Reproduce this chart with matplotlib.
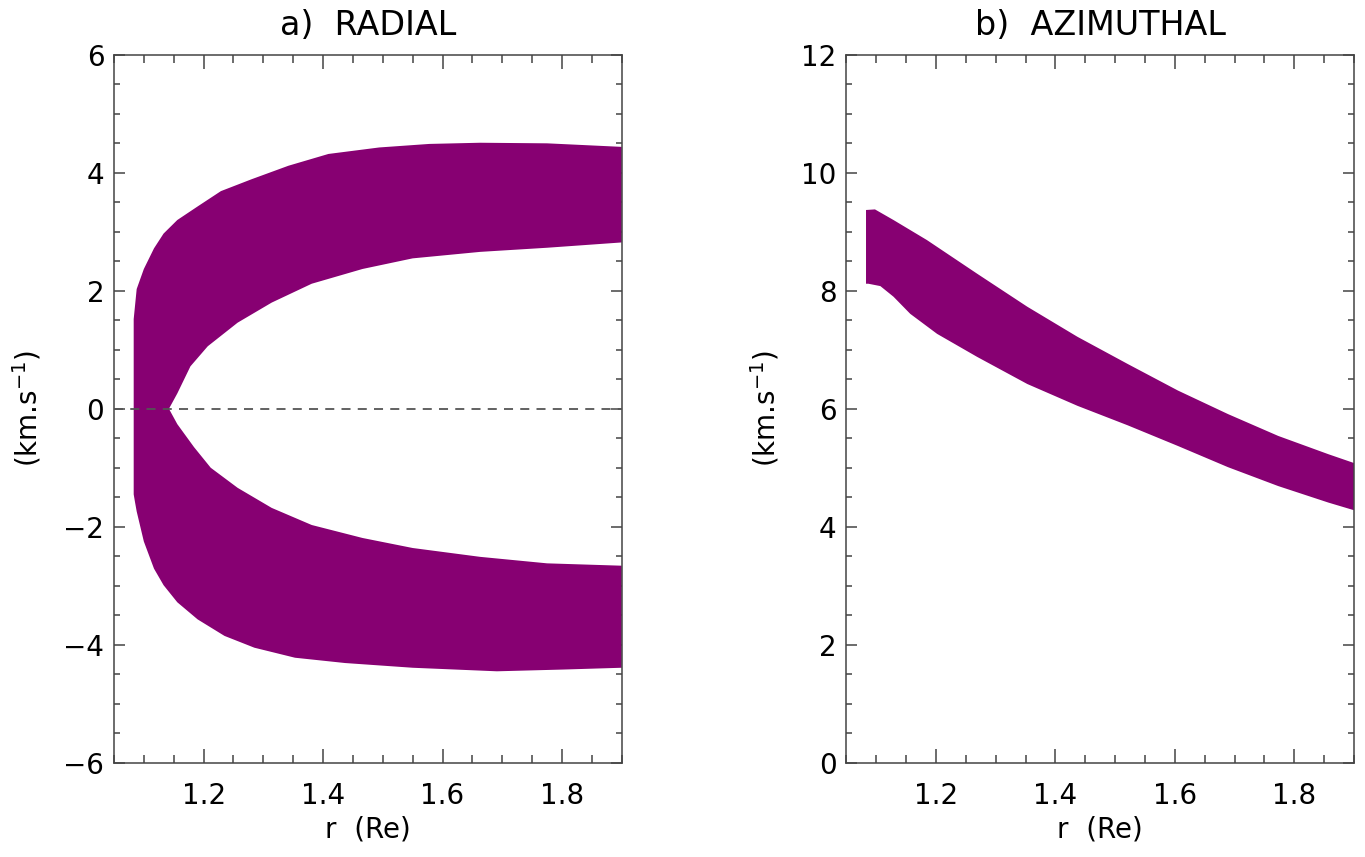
import numpy as np
import matplotlib
matplotlib.use("Agg")
import matplotlib.pyplot as plt
from matplotlib.ticker import MultipleLocator

# radial band outline (r in Re, v in km/s)
r_up_out = [1.083, 1.088, 1.100, 1.117, 1.133, 1.156, 1.190, 1.229, 1.280, 1.342, 1.409, 1.494, 1.578, 1.663, 1.775, 1.90]
v_up_out = [1.52, 2.03, 2.37, 2.72, 2.97, 3.20, 3.43, 3.69, 3.89, 4.12, 4.32, 4.43, 4.49, 4.51, 4.50, 4.44]
r_up_in = [1.142, 1.156, 1.178, 1.207, 1.257, 1.314, 1.381, 1.466, 1.550, 1.663, 1.775, 1.90]
v_up_in = [0.0, 0.26, 0.72, 1.06, 1.46, 1.80, 2.12, 2.37, 2.55, 2.66, 2.73, 2.82]
r_lo_in = [1.142, 1.156, 1.184, 1.212, 1.257, 1.314, 1.381, 1.466, 1.550, 1.663, 1.775, 1.90]
v_lo_in = [0.0, -0.26, -0.65, -1.00, -1.34, -1.68, -1.97, -2.19, -2.36, -2.51, -2.62, -2.66]
r_lo_out = [1.083, 1.085, 1.088, 1.100, 1.117, 1.133, 1.156, 1.190, 1.235, 1.285, 1.353, 1.437, 1.550, 1.691, 1.803, 1.90]
v_lo_out = [-1.45, -1.57, -1.74, -2.25, -2.71, -2.99, -3.28, -3.57, -3.85, -4.05, -4.22, -4.31, -4.39, -4.45, -4.42, -4.39]

# azimuthal band outline
r_az_up = [1.083, 1.098, 1.129, 1.185, 1.269, 1.353, 1.437, 1.521, 1.605, 1.689, 1.773, 1.857, 1.90]
v_az_up = [9.37, 9.38, 9.20, 8.86, 8.29, 7.73, 7.22, 6.76, 6.31, 5.91, 5.54, 5.23, 5.08]
r_az_lo = [1.083, 1.087, 1.107, 1.129, 1.157, 1.202, 1.269, 1.353, 1.437, 1.521, 1.605, 1.689, 1.773, 1.857, 1.90]
v_az_lo = [8.12, 8.12, 8.08, 7.90, 7.61, 7.27, 6.88, 6.42, 6.05, 5.72, 5.37, 5.01, 4.69, 4.41, 4.28]

purple = "#870072"
axcol = "#444444"

fig = plt.figure(figsize=(13.65, 8.57), dpi=100)
ax1 = fig.add_axes([0.0835, 0.110, 0.372, 0.826])
ax2 = fig.add_axes([0.620, 0.110, 0.372, 0.826])

# one closed outline for the C shaped radial band
px = r_up_out + r_up_in[::-1] + r_lo_in + r_lo_out[::-1]
py = v_up_out + v_up_in[::-1] + v_lo_in + v_lo_out[::-1]
ax1.fill(px, py, color=purple, lw=0, zorder=2)
ax1.axhline(0, color="#555555", lw=1.3, ls=(0, (5, 4)), zorder=3)

ax2.fill(r_az_up + r_az_lo[::-1], v_az_up + v_az_lo[::-1], color=purple, lw=0, zorder=2)

for ax, ylim, title in [(ax1, (-6, 6), "a)  RADIAL"), (ax2, (0, 12), "b)  AZIMUTHAL")]:
    ax.set_xlim(1.05, 1.9)
    ax.set_ylim(*ylim)
    ax.xaxis.set_major_locator(MultipleLocator(0.2))
    ax.xaxis.set_minor_locator(MultipleLocator(0.05))
    ax.yaxis.set_major_locator(MultipleLocator(2))
    ax.yaxis.set_minor_locator(MultipleLocator(0.5))
    ax.tick_params(which="both", direction="in", top=True, right=True, color=axcol, width=1.1, labelsize=20)
    ax.tick_params(axis="x", which="major", length=10, pad=14)
    ax.tick_params(axis="x", which="minor", length=5.5)
    ax.tick_params(axis="y", which="major", length=8, pad=7)
    ax.tick_params(axis="y", which="minor", length=4)
    for s in ax.spines.values():
        s.set_color(axcol)
        s.set_linewidth(1.1)
    ax.set_title(title, fontsize=24, pad=14)
    ax.set_xlabel("r  (Re)", fontsize=20, labelpad=4)
    ax.set_ylabel("(km.s$^{-1}$)", fontsize=20, labelpad=14)
    ax.xaxis.set_major_formatter(matplotlib.ticker.FormatStrFormatter("%.1f"))

fig.savefig("out.png", dpi=100)
